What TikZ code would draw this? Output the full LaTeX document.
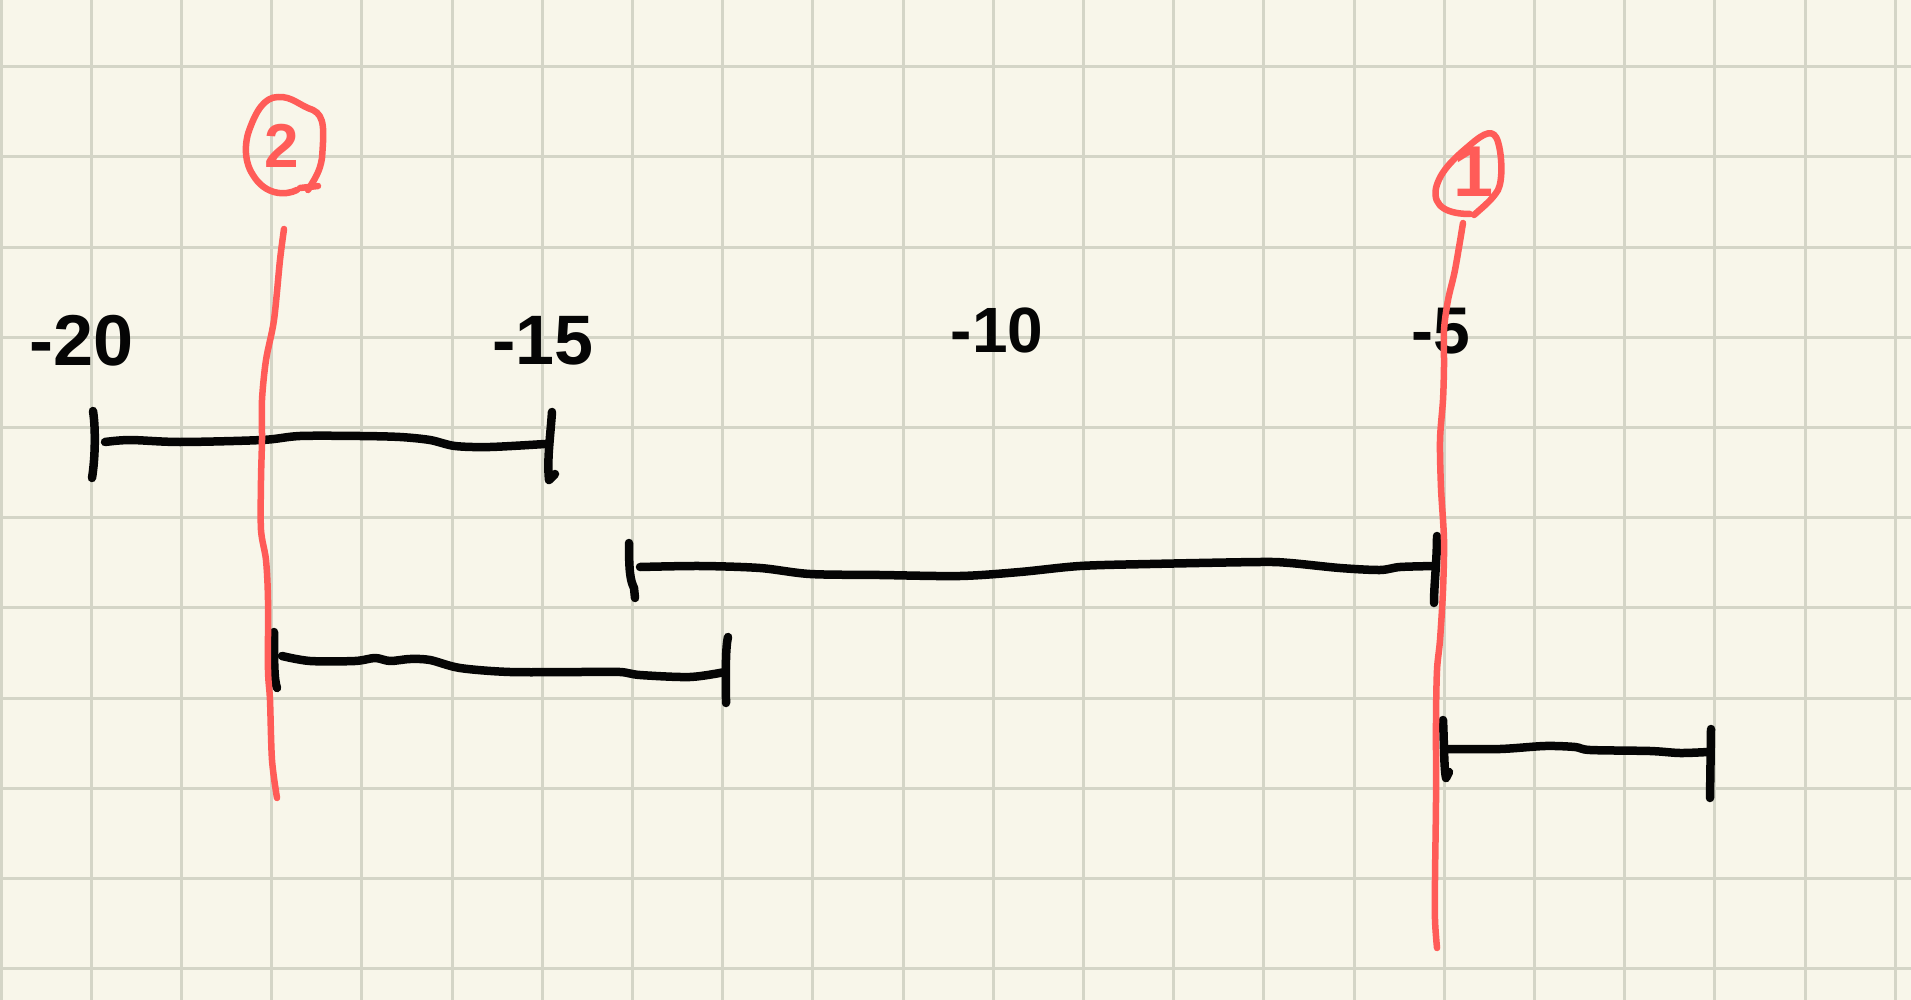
\documentclass[tikz,border=0pt]{standalone}
\usepackage{fontspec}
\setmainfont{Liberation Sans}
\definecolor{paper}{RGB}{248,246,234}
\definecolor{gridc}{RGB}{212,213,199}
\definecolor{penred}{RGB}{255,92,88}
\definecolor{penblack}{RGB}{5,5,5}
\tikzset{
  gridline/.style={draw=gridc, line width=3},
  ink/.style={draw=penblack, line width=8.5, line cap=round, line join=round},
  redink/.style={draw=penred, line width=6.5, line cap=round, line join=round},
  numlabel/.style={text=penblack, font=\bfseries\fontsize{66}{66}\selectfont, inner sep=0},
  circnum/.style={text=penred, font=\bfseries\fontsize{62}{62}\selectfont, inner sep=0}
}
\begin{document}
\begin{tikzpicture}[x=1pt,y=-1pt]
\fill[paper] (0,0) rectangle (1911,1000);
\useasboundingbox (0,0) rectangle (1911,1000);
% grid
\foreach \k in {0,...,21} { \draw[gridline] ({1+90.2*\k},0) -- ({1+90.2*\k},1000); }
\foreach \k in {0,...,10} { \draw[gridline] (0,{66.7+90.2*\k}) -- (1911,{66.7+90.2*\k}); }

% interval 1
\coordinate (a1l) at (93,411); \coordinate (a1r) at (552,412);
\draw[ink] (a1l) .. controls (96,430) and (95,460) .. (92,478);
\draw[ink] plot[smooth] coordinates {(105,442) (130,440) (180,442) (262,440) (300,436) (360,436) (400,437) (430,440) (455,446) (490,447) (545,444)};
\draw[ink] (a1r) .. controls (550,440) and (547,460) .. (549,480) -- (555,474);

% interval 2
\coordinate (a2l) at (629,543); \coordinate (a2r) at (1437,536);
\draw[ink] (a2l) .. controls (629,570) and (630,580) .. (634,588) -- (635,598);
\draw[ink] plot[smooth] coordinates {(640,567) (700,566) (760,568) (810,574) (880,575) (960,576) (1020,572) (1080,566) (1150,564) (1260,562) (1290,563) (1340,568) (1380,570) (1400,567) (1436,566)};
\draw[ink] (a2r) .. controls (1437,560) and (1434,585) .. (1434,603);

% interval 3
\coordinate (a3l) at (274,632); \coordinate (a3r) at (728,637);
\draw[ink] (a3l) .. controls (274,660) and (274,680) .. (277,688);
\draw[ink] plot[smooth] coordinates {(282,656) (310,661) (355,661) (375,658) (390,661) (410,659) (430,660) (460,668) (510,672) (580,672) (620,672) (640,675) (690,677) (725,672)};
\draw[ink] (a3r) .. controls (725,650) and (726,680) .. (726,703);

% interval 4
\coordinate (a4l) at (1443,720); \coordinate (a4r) at (1711,729);
\draw[ink] (a4l) .. controls (1444,740) and (1444,770) .. (1446,778) -- (1449,772);
\draw[ink] plot[smooth] coordinates {(1446,749) (1500,749) (1545,746) (1575,747) (1590,750) (1650,751) (1680,753) (1708,752)};
\draw[ink] (a4r) -- (1710,798);

% labels
\node[numlabel, font=\bfseries\fontsize{72}{72}\selectfont] (l20) at (82,341) {-20};
\node[numlabel, font=\bfseries\fontsize{70}{70}\selectfont] (l15) at (543,341) {-15};
\node[numlabel, font=\bfseries\fontsize{64}{64}\selectfont] (l10) at (997,330) {-10};
\node[numlabel] (l5)  at (1441,331) {-5};

% red line 1 and circled 2
\draw[redink] plot[smooth] coordinates {(284,229) (280,260) (274,320) (266,360) (262,400) (262,440) (261,480) (261,530) (266,560) (268,600) (268,670) (270,700) (272,760) (277,798)};
\node[circnum] (c2) at (282,146) {2};
\draw[redink] (297,190) .. controls (285,196) and (265,195) .. (253,175)
  .. controls (243,160) and (245,140) .. (250,128)
  .. controls (256,112) and (264,97) .. (278,97)
  .. controls (292,96) and (300,106) .. (313,110)
  .. controls (325,116) and (324,130) .. (322,158)
  .. controls (320,172) and (314,180) .. (308,190);
\draw[redink] (300,188) -- (318,186);

% red line 2 and circled 1
\draw[redink] plot[smooth] coordinates {(1463,223) (1455,270) (1448,300) (1444,330) (1444,366) (1443,400) (1440,440) (1441,488) (1444,540) (1443,590) (1440,640) (1437,670) (1436,720) (1436,800) (1435,878) (1435,920) (1437,948)};
\draw[redink] (1470,214) .. controls (1450,214) and (1432,208) .. (1436,188)
  .. controls (1440,172) and (1452,160) .. (1470,145)
  .. controls (1485,132) and (1494,128) .. (1498,142)
  .. controls (1502,155) and (1503,180) .. (1498,190)
  .. controls (1492,200) and (1484,206) .. (1474,215);
\node[circnum, font=\bfseries\fontsize{72}{72}\selectfont] (c1) at (1474,172) {1};
\end{tikzpicture}
\end{document}
